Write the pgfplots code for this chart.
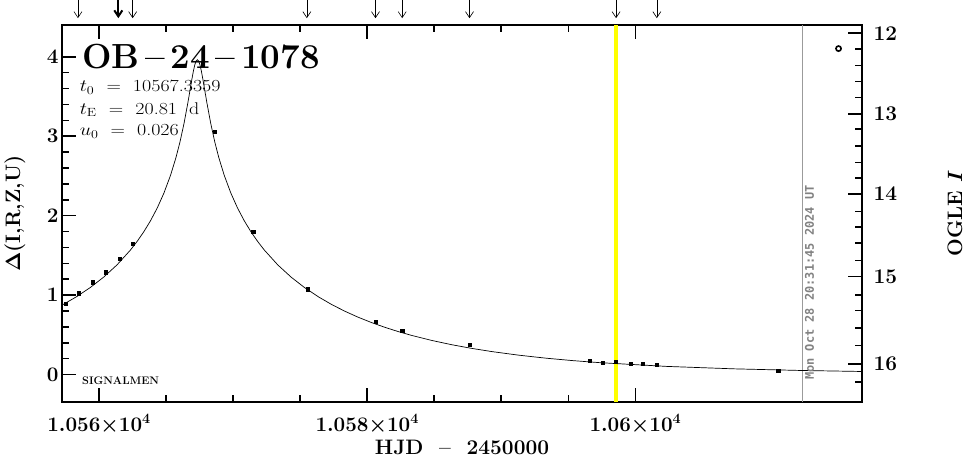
\documentclass[border=0pt]{standalone}
\usepackage{fontspec}
\usepackage{pgfplots}
\pgfplotsset{compat=1.18}
\usetikzlibrary{arrows.meta}
\newfontfamily\stampfont{DejaVu Sans Mono}
\definecolor{hilite}{RGB}{255,255,0}
\definecolor{stamp}{RGB}{130,130,130}
\newcommand\labfont{\fontsize{21}{24}\selectfont\bfseries\boldmath}

% shared frame of both axes
\pgfplotsset{lcframe/.style={
  width=800bp, height=377bp, scale only axis,
  xmin=10557.24, xmax=10616.9,
  ymin=-0.346, ymax=4.40,
  scaled ticks=false,
  tick align=inside,
  major tick length=14bp, minor tick length=7bp,
  every tick/.style={black, line width=1.6pt},
  axis line style={line width=1.8pt},
  ticklabel style={font=\labfont},
}}

\begin{document}
\begin{tikzpicture}
\begin{axis}[
  lcframe,
  name=main,
  xtick={10560,10580,10600},
  xticklabels={$1.056{\times}10^{4}$,$1.058{\times}10^{4}$,$1.06{\times}10^{4}$},
  xticklabel style={yshift=-9bp},
  minor x tick num=3,
  ytick={0,1,2,3,4},
  minor y tick num=4,
  xtick pos=both, ytick pos=left, xticklabel pos=lower,
]
% current date marker and last-data marker
\addplot[hilite, line width=3.5bp] coordinates {(10598.56,-0.346) (10598.56,4.40)};
\addplot[stamp!80, line width=1bp] coordinates {(10612.49,-0.346) (10612.49,4.40)};

% PSPL model, t0=10567.3359, tE=20.81, u0=0.026
\addplot[black, line width=0.7pt] coordinates {
(10557.240,0.8734) (10558.336,0.9806) (10559.336,1.0934) (10560.336,1.2246)
(10561.336,1.3792) (10562.336,1.5654) (10562.836,1.6739) (10563.336,1.7958)
(10563.836,1.9344) (10564.336,2.0942) (10564.836,2.2821) (10565.336,2.5088)
(10565.736,2.7293) (10566.036,2.9260) (10566.336,3.1575) (10566.636,3.4294)
(10566.836,3.6279) (10566.936,3.7263) (10567.036,3.8174) (10567.136,3.8934)
(10567.236,3.9446) (10567.336,3.9630) (10567.436,3.9446) (10567.536,3.8934)
(10567.636,3.8174) (10567.736,3.7263) (10567.836,3.6279) (10568.036,3.4294)
(10568.336,3.1575) (10568.636,2.9260) (10568.936,2.7293) (10569.336,2.5088)
(10569.836,2.2821) (10570.336,2.0942) (10570.836,1.9344) (10571.336,1.7958)
(10571.836,1.6739) (10572.336,1.5654) (10573.336,1.3792) (10574.336,1.2246)
(10575.336,1.0934) (10576.336,0.9806) (10577.336,0.8825) (10578.336,0.7965)
(10579.336,0.7205) (10580.336,0.6531) (10581.336,0.5931) (10582.336,0.5394)
(10583.336,0.4913) (10584.836,0.4281) (10586.336,0.3741) (10587.836,0.3277)
(10589.336,0.2877) (10591.336,0.2428) (10593.336,0.2057) (10595.336,0.1749)
(10597.336,0.1493) (10602.336,0.1021) (10607.336,0.0715) (10612.336,0.0510)
(10616.900,0.0382)
};

% observations
\addplot[only marks, mark=square*, mark size=1.6pt, black] coordinates {
(10557.50,0.888) (10558.46,1.023) (10559.50,1.161) (10560.52,1.287)
(10561.52,1.455) (10562.51,1.647) (10568.60,3.058) (10571.50,1.798)
(10575.55,1.073) (10580.62,0.665) (10582.61,0.552) (10587.63,0.380)
(10596.57,0.174) (10597.59,0.149) (10598.56,0.157) (10599.63,0.136)
(10600.57,0.136) (10601.57,0.128) (10610.65,0.048)
};
\addplot[only marks, mark=o, mark size=2.6pt, line width=1.6pt, black] coordinates {(10615.15,4.103)};
\end{axis}

\begin{axis}[
  lcframe,
  axis x line=none, axis y line*=right,
  ytick={0.132,1.232,2.273,3.281,4.297},
  yticklabels={16,15,14,13,12},
  yticklabel style={xshift=8bp},
  minor ytick={-0.091,0.363,0.589,0.804,1.001,1.433,1.652,1.854,2.050,
               2.471,2.668,2.878,3.088,3.486,3.688,3.889,4.096},
  clip=false,
]
% observation arrows above the frame
\addplot[black, line width=0.6pt, -{Straight Barb[length=6bp,width=8bp]},
  quiver={u=0,v=-0.231}] coordinates {
(10558.43,4.717) (10562.51,4.717) (10575.50,4.717) (10580.62,4.717)
(10582.61,4.717) (10587.63,4.717) (10598.56,4.717) (10601.60,4.717)
};
\addplot[black, line width=2pt, -{Straight Barb[length=6bp,width=8bp]},
  quiver={u=0,v=-0.231}] coordinates {(10561.44,4.717)};

\node[anchor=base west, font=\fontsize{35}{40}\selectfont\bfseries, inner sep=0]
  at (axis cs:10558.73,3.856) {OB\,--\,24\,--\,1078};
\node[anchor=base west, font=\fontsize{17}{20}\selectfont, inner sep=0, xscale=1.18]
  at (axis cs:10558.55,3.558) {$t_{0}$\ \ =\ \ 10567.3359};
\node[anchor=base west, font=\fontsize{17}{20}\selectfont, inner sep=0, xscale=1.18]
  at (axis cs:10558.55,3.275) {$t_{\mathrm{E}}$\ \ =\ \ 20.81\ \ d};
\node[anchor=base west, font=\fontsize{17}{20}\selectfont, inner sep=0, xscale=1.18]
  at (axis cs:10558.55,3.004) {$u_{0}$\ \ =\ \ 0.026};
\node[anchor=west, font=\fontsize{11}{13}\selectfont\bfseries, inner sep=0]
  at (axis cs:10558.73,-0.082) {SIGNALMEN};
\node[rotate=90, anchor=west, text=stamp, font=\stampfont\bfseries\fontsize{12}{14}\selectfont, inner sep=0]
  at (axis cs:10612.99,-0.07) {Mon Oct 28 20:31:45 2024 UT};

\node[font=\labfont] at ([yshift=-45bp]rel axis cs:0.5,0) {HJD\ \ --\ \ 2450000};
\node[rotate=90, font=\labfont] at ([xshift=-47bp]rel axis cs:0,0.5) {$\Delta$(I,R,Z,U)};
\node[rotate=90, font=\labfont] at ([xshift=93bp]rel axis cs:1,0.5) {OGLE $I$};
\end{axis}
\pgfresetboundingbox
\path ([shift={(-62bp,-57bp)}]main.south west) rectangle ([shift={(103bp,25bp)}]main.north east);
\end{tikzpicture}
\end{document}
